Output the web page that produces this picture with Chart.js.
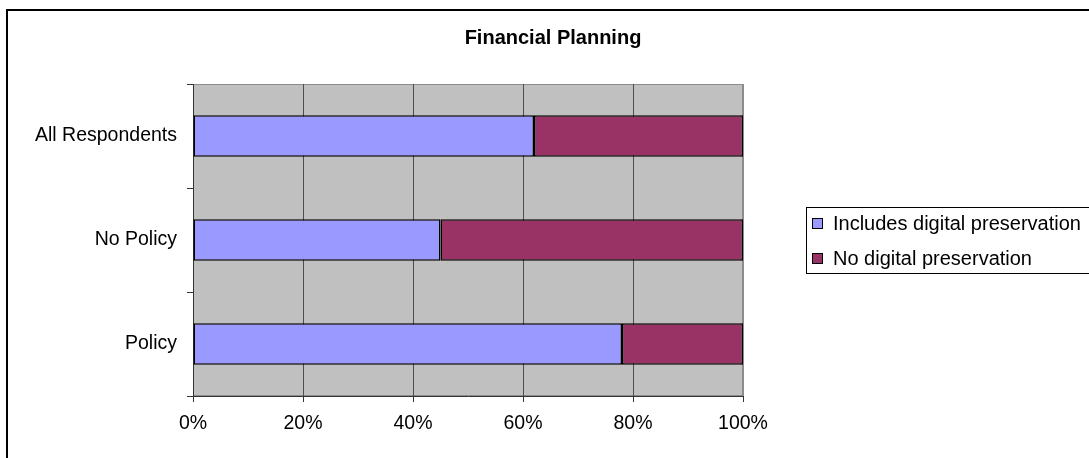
<!DOCTYPE html>
<html>
<head>
<meta charset="utf-8">
<title>Financial Planning</title>
<script src="https://cdn.jsdelivr.net/npm/chart.js@4.4.1/dist/chart.umd.min.js"></script>
<style>
  html, body { margin: 0; padding: 0; background: #fff; overflow: hidden; }
  canvas { display: block; }
</style>
</head>
<body>
<canvas id="planChart" width="1089" height="458"></canvas>
<script>
const groups = ["All Respondents", "No Policy", "Policy"];
const seriesNames = ["Includes digital preservation", "No digital preservation"];
const includesDP = [62, 45, 78];
const noDP = [38, 55, 22];
const pctTicks = [0, 20, 40, 60, 80, 100];
const seriesColors = ["#9999ff", "#993366"];

const FONT = "'Liberation Sans', Arial, Helvetica, sans-serif";

// sheet frame + grey plot area behind the grid
const plotFrame = {
  id: "plotFrame",
  beforeDraw(chart) {
    const { ctx, chartArea: a } = chart;
    ctx.save();
    ctx.fillStyle = "#fff";
    ctx.fillRect(0, 0, chart.width, chart.height);
    ctx.lineWidth = 2;
    ctx.strokeStyle = "#000";
    ctx.strokeRect(7, 10, chart.width + 40, chart.height + 40);
    ctx.fillStyle = "#c0c0c0";
    ctx.fillRect(a.left, a.top, a.width, a.height);
    ctx.lineWidth = 1;
    ctx.strokeStyle = "#8c8c8c";
    ctx.strokeRect(a.left + 0.5, a.top + 0.5, a.width - 1, a.height - 1);
    ctx.restore();
  }
};

// boxed legend sitting in its own layout slot on the right
function makeLegendBox(chart) {
  return {
    position: "right",
    weight: 0,
    fullSize: false,
    options: {},
    isHorizontal() { return false; },
    update(maxWidth, maxHeight) {
      this.width = 346;
      this.height = maxHeight;
    },
    draw() {
      const ctx = chart.ctx;
      const sets = chart.data.datasets;
      const rowGap = 35;
      const mid = (this.top + this.bottom) / 2;
      const firstRow = mid - (sets.length - 1) * rowGap / 2;
      ctx.save();
      ctx.lineWidth = 1;
      ctx.strokeStyle = "#000";
      ctx.strokeRect(this.left + 63.5, Math.round(firstRow - 16) + 0.5, 400, sets.length * rowGap - 4);
      ctx.font = "20px " + FONT;
      ctx.textBaseline = "middle";
      ctx.textAlign = "left";
      sets.forEach((ds, i) => {
        const cy = Math.round(firstRow + i * rowGap);
        ctx.fillStyle = ds.backgroundColor;
        ctx.fillRect(this.left + 69.5, cy - 4.5, 10, 10);
        ctx.strokeRect(this.left + 69.5, cy - 4.5, 10, 10);
        ctx.fillStyle = "#000";
        ctx.fillText(ds.label, this.left + 90, cy + 1);
      });
      ctx.restore();
    }
  };
}

const sideLegend = {
  id: "sideLegend",
  beforeInit(chart) {
    Chart.layouts.addBox(chart, makeLegendBox(chart));
  }
};

new Chart(document.getElementById("planChart"), {
  type: "bar",
  data: {
    labels: groups,
    datasets: [
      {
        label: seriesNames[0],
        data: includesDP,
        backgroundColor: seriesColors[0],
        borderColor: "#000",
        borderWidth: 1.5,
        borderSkipped: false,
      },
      {
        label: seriesNames[1],
        data: noDP,
        backgroundColor: seriesColors[1],
        borderColor: "#000",
        borderWidth: 1.5,
        borderSkipped: false,
      },
    ],
  },
  options: {
    indexAxis: "y",
    responsive: false,
    animation: false,
    barPercentage: 0.4,
    categoryPercentage: 1,
    layout: { padding: { left: 17, right: 0, top: 0, bottom: 0 } },
    plugins: {
      legend: { display: false },
      tooltip: { enabled: false },
      title: {
        display: true,
        text: "Financial Planning",
        color: "#000",
        font: { family: FONT, size: 20, weight: "bold" },
        padding: { top: 26, bottom: 34 },
      },
    },
    scales: {
      x: {
        stacked: true,
        min: 0,
        max: 100,
        afterBuildTicks: (s) => {
          s.ticks = pctTicks.map((v) => ({ value: v }));
        },
        afterFit: (s) => {
          s.height = 62;
        },
        ticks: {
          color: "#000",
          padding: 10,
          font: { family: FONT, size: 19.5 },
          callback: (v) => v + "%",
        },
        grid: {
          color: (c) => (c.tick && c.tick.value === 100 ? "#8c8c8c" : "#4d4d4d"),
          tickColor: "#333",
          tickLength: 6,
        },
        border: { color: "#333" },
      },
      y: {
        stacked: true,
        afterFit: (s) => {
          s.width = 176;
        },
        ticks: {
          color: "#000",
          padding: 10,
          font: { family: FONT, size: 19.5 },
        },
        grid: {
          drawOnChartArea: false,
          color: "#333",
          tickLength: 6,
        },
        border: { color: "#333" },
      },
    },
  },
  plugins: [plotFrame, sideLegend],
});
</script>
</body>
</html>
